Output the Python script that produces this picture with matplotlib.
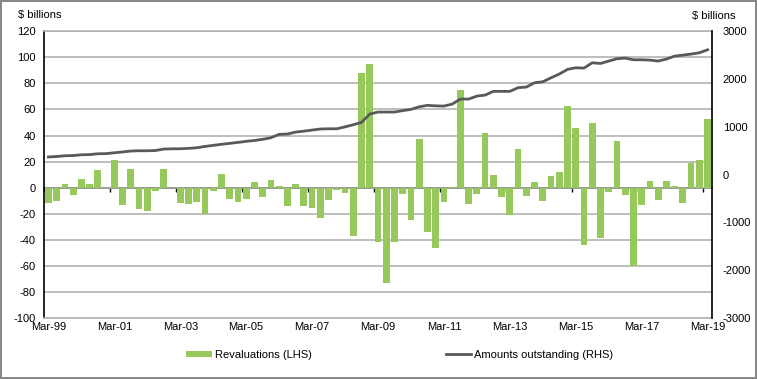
import numpy as np
import matplotlib
matplotlib.use("Agg")
import matplotlib.pyplot as plt
from matplotlib.patches import Patch
from matplotlib.lines import Line2D

plt.rcParams['font.family'] = ['Liberation Sans', 'DejaVu Sans']
plt.rcParams['axes.unicode_minus'] = False

# quarterly, Mar-99 .. Mar-19
years = list(range(1999, 2020))
quarters = [f"{m}-{str(y)[2:]}" for y in years for m in ["Mar", "Jun", "Sep", "Dec"]][:81]

revaluations = [-11.5, -10, 3, -5.6, 6.7, 3, 13.6, 0, 21.3, -13,
                14.3, -16.3, -17.6, -2.3, 14.3, 0, -11.5, -12.3, -10.7, -20.4,
                -2.3, 10.7, -8.4, -10.7, -8.4, 4.6, -6.9, 5.9, 1.3, -13.8,
                2.8, -13.8, -15.3, -23, -9.2, -1.5, -3.8, -36.8, 88.2, 95.1,
                -41.4, -72.9, -41.4, -4.6, -24.5, 37.6, -33.8, -46, -10.7, 0.5,
                75.2, -12.3, -4.6, 42, 10, -6.9, -20.7, 29.7, -6.1, 4.6,
                -10, 9.2, 12.3, 62.7, 45.8, -43.7, 49.6, -38.4, -3.1, 35.8,
                -5.4, -60, -13, 5.1, -9.2, 5.1, 1.5, -11.5, 19.2, 21.3,
                52.7]

outstanding = [370, 380, 395, 400, 416, 420, 437, 440, 458, 475,
               494, 500, 500, 505, 536, 540, 542, 550, 563, 590,
               613, 635, 655, 675, 697, 715, 740, 772, 843, 850,
               891, 910, 933, 955, 960, 960, 1000, 1044, 1094, 1268,
               1310, 1310, 1310, 1340, 1366, 1420, 1450, 1440, 1435, 1477,
               1582, 1582, 1644, 1665, 1743, 1743, 1743, 1820, 1833, 1923,
               1944, 2027, 2105, 2203, 2237, 2230, 2341, 2327, 2377, 2426,
               2439, 2404, 2404, 2397, 2377, 2418, 2481, 2502, 2523, 2551,
               2613]

green = '#96c85c'
line_col = '#595959'
grid_col = '#b3b3b3'
fs = 8

fig = plt.figure(figsize=(7.57, 3.79), dpi=100)
fig.patch.set_edgecolor('#888888')
fig.patch.set_linewidth(1.5)

W, H = 757, 379
ax = fig.add_axes([44.3 / W, 1 - 318 / H, (711.7 - 44.3) / W, (318 - 31.3) / H])
x = np.arange(len(quarters))

ax.bar(x, revaluations, width=0.82, color=green, zorder=2)
ax.set_xlim(-0.5, len(quarters) - 0.5)
ax.set_ylim(-100, 120)
ax.set_yticks(range(-100, 121, 20))
ax.yaxis.grid(True, color=grid_col, linewidth=1.2, zorder=0)
ax.set_axisbelow(True)
ax.tick_params(axis='y', length=0, pad=6, labelsize=fs)
ax.set_xticks(x[::8])
ax.set_xticklabels(quarters[::8], fontsize=fs)
ax.tick_params(axis='x', length=0, pad=3)
for s in ['top', 'bottom']:
    ax.spines[s].set_color(grid_col)
    ax.spines[s].set_linewidth(1.2)
ax.spines['left'].set_linewidth(1.2)
ax.spines['right'].set_visible(False)

# zero line with boundary ticks
zero = ax.secondary_xaxis(0, transform=ax.transData)
zero.set_xticks(np.arange(-0.5, len(quarters), 8))
zero.set_xticklabels([])
zero.tick_params(length=3, width=1, color='black')
zero.spines['bottom'].set_linewidth(1.2)

ax2 = ax.twinx()
ax2.plot(x, outstanding, color=line_col, linewidth=2, zorder=3)
ax2.set_ylim(-3000, 3000)
ax2.set_yticks(range(-3000, 3001, 1000))
ax2.tick_params(axis='y', length=0, pad=8, labelsize=fs)
ax2.spines['right'].set_linewidth(1.2)
for s in ['top', 'bottom', 'left']:
    ax2.spines[s].set_visible(False)

fig.text(18 / W, 1 - 15 / H, '$ billions', fontsize=fs, va='center', ha='left')
fig.text(735 / W, 1 - 16 / H, '$ billions', fontsize=fs, va='center', ha='right')

handles = [Patch(facecolor=green, edgecolor='none'),
           Line2D([0], [0], color=line_col, linewidth=2)]
fig.legend(handles, ['Revaluations (LHS)', 'Amounts outstanding (RHS)'],
           loc='center', bbox_to_anchor=(400 / W, 1 - 355 / H), ncol=2,
           frameon=False, fontsize=fs, handlelength=2.3, handleheight=0.5,
           handletextpad=0.3, columnspacing=12)

fig.savefig('out.png', dpi=100)
